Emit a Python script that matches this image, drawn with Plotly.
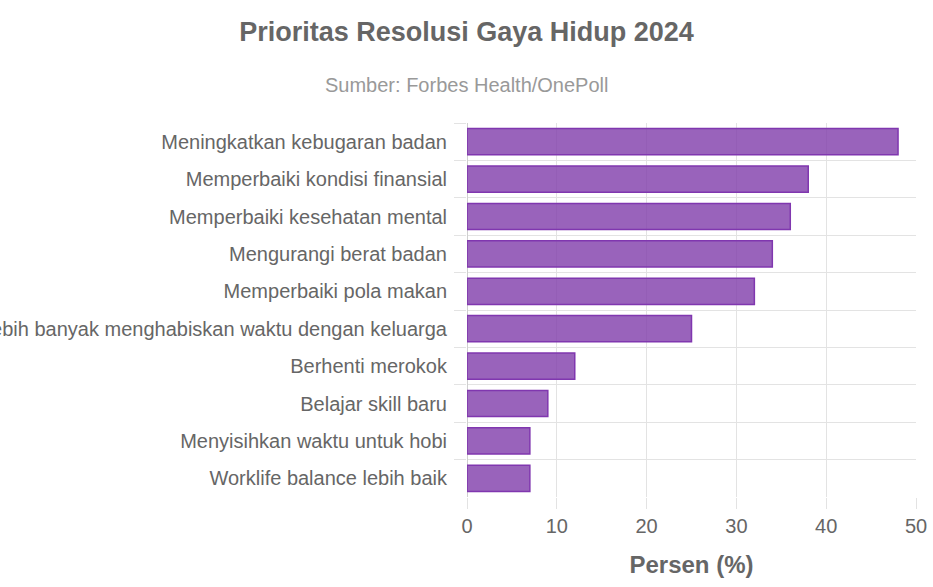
import plotly.graph_objects as go

categories = [
    "Meningkatkan kebugaran badan",
    "Memperbaiki kondisi finansial",
    "Memperbaiki kesehatan mental",
    "Mengurangi berat badan",
    "Memperbaiki pola makan",
    "Lebih banyak menghabiskan waktu dengan keluarga",
    "Berhenti merokok",
    "Belajar skill baru",
    "Menyisihkan waktu untuk hobi",
    "Worklife balance lebih baik",
]
values = [48, 38, 36, 34, 32, 25, 12, 9, 7, 7]
x_ticks = [0, 10, 20, 30, 40, 50]

title_text = "Prioritas Resolusi Gaya Hidup 2024"
subtitle_text = "Sumber: Forbes Health/OnePoll"
x_title = "Persen (%)"

FONT = "Liberation Sans, Arial, sans-serif"
GRID = "#e3e3e3"

fig = go.Figure(
    go.Bar(
        y=categories,
        x=values,
        orientation="h",
        marker=dict(
            color="rgba(128,60,170,0.8)",
            line=dict(color="rgba(128,55,175,1)", width=1.5),
        ),
        hoverinfo="x+y",
    )
)

fig.update_layout(
    width=933,
    height=587,
    margin=dict(l=467, r=17, t=123, b=90, autoexpand=False),
    paper_bgcolor="white",
    plot_bgcolor="white",
    bargap=0.3,
    showlegend=False,
    font=dict(family=FONT, color="#666666"),
    title=dict(
        text="<b>" + title_text + "</b>",
        x=0.5,
        xref="container",
        xanchor="center",
        y=1 - 32 / 587,
        yref="container",
        yanchor="middle",
        font=dict(size=27, color="#666666", family=FONT),
    ),
    annotations=[
        dict(
            text=subtitle_text,
            xref="paper",
            yref="paper",
            x=-0.001,
            y=1 + (123 - 85) / 374,
            xanchor="center",
            yanchor="middle",
            showarrow=False,
            font=dict(size=20, color="#999999", family=FONT),
        )
    ],
)

fig.update_xaxes(
    range=[0, 50],
    tickvals=x_ticks,
    showgrid=True,
    gridcolor=GRID,
    gridwidth=1,
    zeroline=True,
    zerolinecolor="#cfcfcf",
    zerolinewidth=1,
    ticks="outside",
    ticklen=11,
    tickcolor=GRID,
    tickfont=dict(size=20, color="#666666"),
    title=dict(text="<b>" + x_title + "</b>", font=dict(size=24, color="#666666"), standoff=20),
    automargin=False,
    fixedrange=True,
)

fig.update_yaxes(
    categoryorder="array",
    categoryarray=categories,
    autorange="reversed",
    tickson="boundaries",
    showgrid=True,
    gridcolor=GRID,
    gridwidth=1,
    ticks="outside",
    ticklen=12,
    tickcolor=GRID,
    ticklabelstandoff=19,
    tickfont=dict(size=20, color="#666666"),
    automargin=False,
    fixedrange=True,
)

fig.write_html(
    "out.html",
    config={"displayModeBar": False},
    post_script="document.body.style.margin='0';document.body.style.overflow='hidden';",
)
